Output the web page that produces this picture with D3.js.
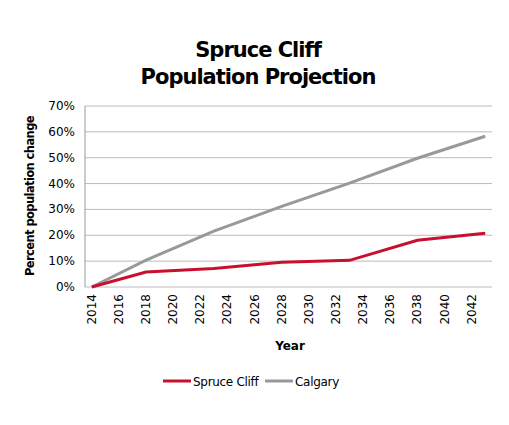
<!DOCTYPE html>
<html><head><meta charset="utf-8">
<script src="https://cdn.jsdelivr.net/npm/d3@7"></script>
<style>body{margin:0;background:#fff;font-family:"DejaVu Sans",sans-serif;}</style>
</head><body><svg id="c" width="509" height="425"></svg>
<script>
const years=[2014,2018,2023,2028,2033,2038,2043];
const spruce=[0,5.8,7.2,9.6,10.3,18.1,20.8];
const calgary=[0,10.4,21.6,31.2,40.2,49.8,58.3];
const xTicks=d3.range(2014,2043,2);
const yTicks=[0,10,20,30,40,50,60,70];
const svg=d3.select("#c");
const x=d3.scaleLinear().domain([2013.5,2043.5]).range([85,492]);
const y=d3.scaleLinear().domain([0,70]).range([287,106]);
svg.append("text").attr("x",258).attr("y",57).attr("text-anchor","middle").attr("font-size",21).attr("font-weight","bold").attr("letter-spacing",-1).text("Spruce Cliff");
svg.append("text").attr("x",258).attr("y",84).attr("text-anchor","middle").attr("font-size",21).attr("font-weight","bold").attr("letter-spacing",-1).text("Population Projection");
svg.append("g").selectAll("line").data(yTicks).join("line").attr("x1",85).attr("x2",492).attr("y1",d=>y(d)).attr("y2",d=>y(d)).attr("stroke","#bbb");
svg.append("line").attr("x1",85).attr("x2",85).attr("y1",106).attr("y2",287).attr("stroke","#999");
svg.append("g").selectAll("text").data(yTicks).join("text").attr("x",75).attr("y",d=>y(d)+4).attr("text-anchor","end").attr("font-size",12).text(d=>d+"%");
svg.append("g").selectAll("text").data(xTicks).join("text").attr("transform",d=>`translate(${x(d)+4},294) rotate(-90)`).attr("text-anchor","end").attr("font-size",12).text(d=>d);
svg.append("text").attr("x",290).attr("y",350).attr("text-anchor","middle").attr("font-size",12).attr("font-weight","bold").text("Year");
svg.append("text").attr("transform","translate(34,196) rotate(-90)").attr("text-anchor","middle").attr("font-size",11.5).attr("font-weight","bold").attr("letter-spacing",-0.6).text("Percent population change");
const line=d3.line().x((d,i)=>x(years[i])).y(d=>y(d));
svg.append("path").attr("d",line(calgary)).attr("fill","none").attr("stroke","#999").attr("stroke-width",3);
svg.append("path").attr("d",line(spruce)).attr("fill","none").attr("stroke","#c8102e").attr("stroke-width",3);
const leg=[["Spruce Cliff","#c8102e",163],["Calgary","#999",265]];
leg.forEach(([n,c,lx])=>{svg.append("line").attr("x1",lx).attr("x2",lx+28).attr("y1",381).attr("y2",381).attr("stroke",c).attr("stroke-width",3);
svg.append("text").attr("x",lx+30).attr("y",386).attr("font-size",12).attr("letter-spacing",-0.3).text(n);});
</script></body></html>
